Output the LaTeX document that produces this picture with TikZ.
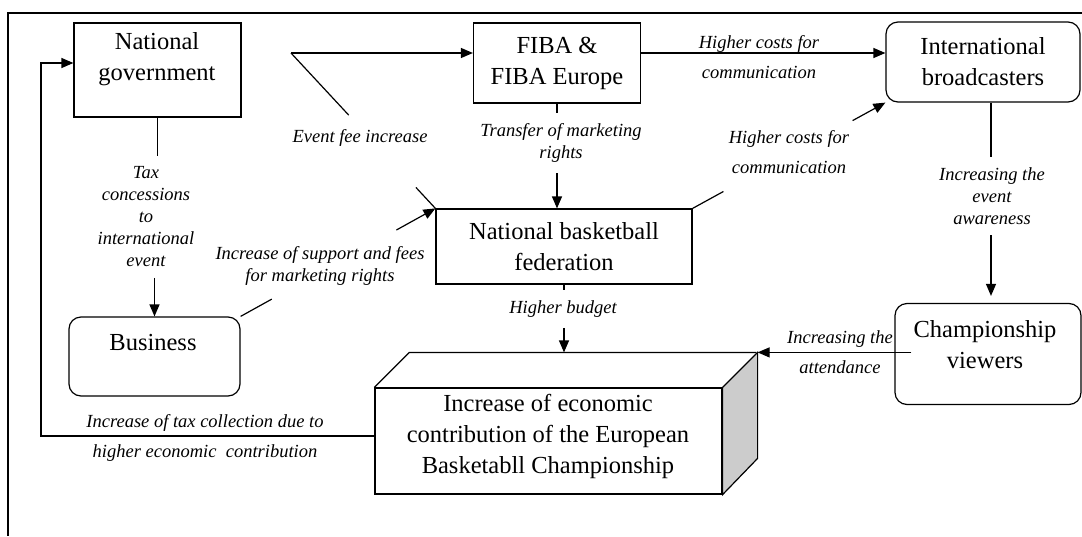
\documentclass[tikz,border=0pt]{standalone}
\usepackage{fontspec}
\setmainfont{Liberation Serif}
\usetikzlibrary{arrows.meta,calc}

\begin{document}
\begin{tikzpicture}[
        x=1pt, y=-1pt,
        line width=1.2pt,
        >={Triangle[length=12pt,width=10pt]},
        box/.style={
            rectangle,
            draw,
            align=center,
            inner sep=0pt,
            font=\fontsize{24.5}{31}\selectfont
        },
        rbox/.style={
            box,
            rounded corners=12pt
        },
        txt/.style={
            align=center,
            font=\fontsize{24.5}{31}\selectfont
        },
        lbl/.style={
            align=center,
            inner xsep=2pt,
            inner ysep=10pt,
            font=\itshape\fontsize{18.5}{22}\selectfont
        },
        wide/.style={
            lbl,
            inner ysep=2pt,
            font=\itshape\fontsize{18.5}{30}\selectfont
        }
    ]
    \useasboundingbox (0,0) rectangle (1082,536);

    % open frame, top and left edge only
    \draw (1082,13) -- (8,13) -- (8,536);

    % ---------- boxes ----------
    \node[box, minimum width=167pt, minimum height=94pt] (gov) at (157.5,70) {};
    \node[txt] (govtext) at (157,59) {National\\government};

    \node[box, minimum width=167pt, minimum height=80pt] (fiba) at (557,63) {FIBA \&\\FIBA Europe};
    \node[rbox, minimum width=194pt, minimum height=80pt] (bcast) at (983,62) {International\\broadcasters};
    \node[box, minimum width=256pt, minimum height=75pt] (nbf) at (564,246.5) {National basketball\\federation};

    \node[rbox, minimum width=171pt, minimum height=79pt] (business) at (154.5,356.5) {};
    \node[txt] (bustext) at (153,343) {Business};

    \node[rbox, minimum width=186pt, minimum height=101pt] (viewers) at (988,354) {};
    \node[txt] (viewtext) at (985,345) {Championship\\viewers};

    % block with top and shaded side face
    \node[box, minimum width=347pt, minimum height=106pt] (econ) at (548.5,441) {};
    \draw[fill=gray!40] (econ.north east) -- ++(35,-35) -- ++(0,106) -- (econ.south east) -- cycle;
    \draw (econ.north west) -- ++(35,-35) -- ++(347,0);
    \node[txt] (econtext) at (548,436) {Increase of economic\\contribution of the European\\Basketabll Championship};
    \coordinate (econback) at ([shift={(35,-35)}]econ.north west);
    \coordinate (econcorner) at ([shift={(35,-35)}]econ.north east);

    % ---------- labels ----------
    \node[lbl] (taxlbl) at (146,217) {Tax\\concessions\\to\\international\\event};
    \node[lbl] (feelbl) at (360,138) {Event fee increase};
    \node[lbl] (translbl) at (561,143) {Transfer of marketing\\rights};
    \node[wide] (toplbl) at (759,57) {Higher costs for\\communication};
    \node[wide] (midlbl) at (789,152) {Higher costs for\\communication};
    \node[lbl] (supplbl) at (320,266) {Increase of support and fees\\for marketing rights};
    \node[lbl] (awarelbl) at (992,196) {Increasing the\\event\\awareness};
    \node[lbl] (budgetlbl) at (563,309) {Higher budget};
    \node[wide] (attlbl) at (840,352) {Increasing the\\attendance};
    \node[wide] (colllbl) at (205,438) {Increase of tax collection due to\\higher economic\ \ contribution};

    % ---------- connectors ----------
    \coordinate (feesrc) at (291,53);
    \draw[->] (feesrc) -- (feesrc -| fiba.west);
    \draw (feesrc) -- ($(feesrc)!0.40!(nbf.north west)$);
    \draw ($(feesrc)!0.865!(nbf.north west)$) -- (nbf.north west);

    \draw[->] (fiba.east |- feesrc) -- (bcast.west |- feesrc);

    \draw (gov.south) -- (gov.south |- taxlbl.north);
    \draw[->] (business.north |- taxlbl.south) -- (business.north);

    \draw (fiba.south) -- (fiba.south |- translbl.north);
    \draw[->] (fiba.south |- translbl.south) -- (fiba.south |- nbf.north);

    \draw (nbf.south) -- (nbf.south |- budgetlbl.north);
    \draw[->] (nbf.south |- budgetlbl.south) -- (nbf.south |- econback);

    \draw ([xshift=8pt]bcast.south) -- ([xshift=8pt]bcast.south |- awarelbl.north);
    \draw[->, shorten >=7pt] ([xshift=8pt]bcast.south |- awarelbl.south) -- ([xshift=8pt]bcast.south |- viewers.north);

    \draw (nbf.north east) -- ($(nbf.north east)!0.16!(bcast.south west)$);
    \draw[->] ($(nbf.north east)!0.83!(bcast.south west)$) -- (bcast.south west);

    \draw (business.north east) -- ($(business.north east)!0.16!(nbf.north west)$);
    \draw[->] ($(business.north east)!0.80!(nbf.north west)$) -- (nbf.north west);

    \draw[->] ([xshift=17pt]viewers.west |- econcorner) -- (econcorner);

    % tax collection back to the government
    \coordinate (fbx) at (41,0);
    \draw[->] ([yshift=5pt]econ.west) -- ([yshift=5pt]econ.west -| fbx) |- ([yshift=7pt]gov.west);

\end{tikzpicture}
\end{document}
